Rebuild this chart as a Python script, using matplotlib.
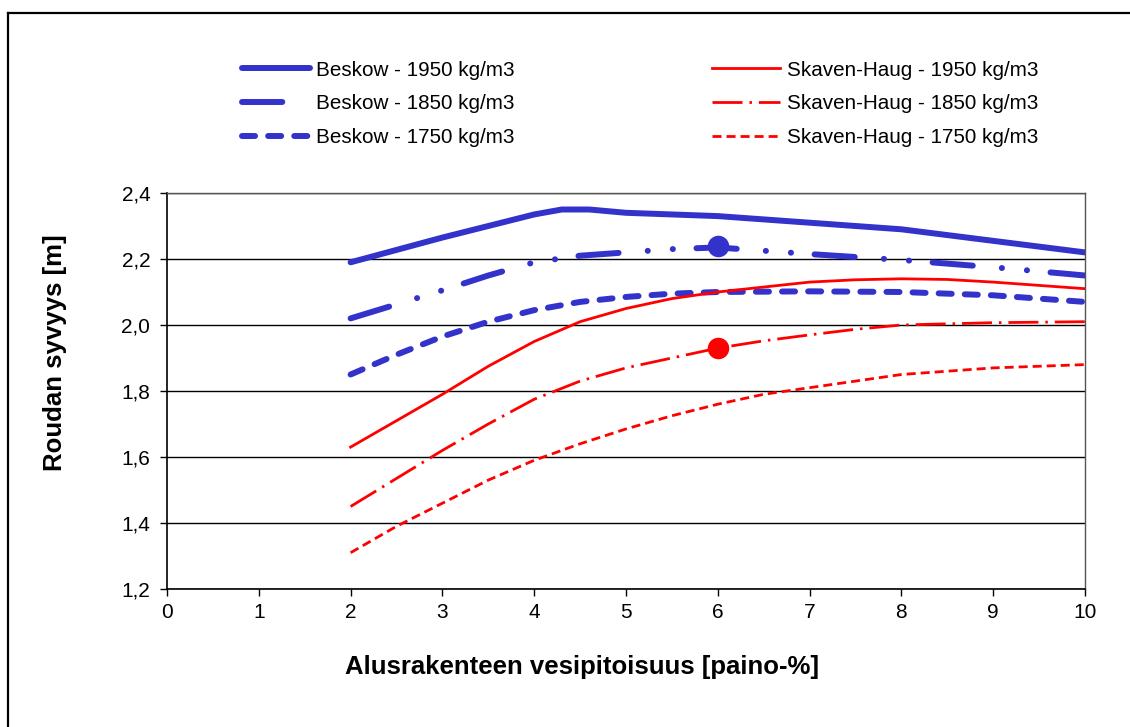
import matplotlib.pyplot as plt
from matplotlib.lines import Line2D
from matplotlib.ticker import FuncFormatter

plt.rcParams["font.family"] = ["Liberation Sans", "DejaVu Sans"]
plt.rcParams["lines.scale_dashes"] = False

# =========================
# DATA
# =========================
x_b1950 = [2, 3, 3.5, 4, 4.3, 4.6, 5, 6, 7, 8, 9, 10]
beskow_1950 = [2.19, 2.265, 2.30, 2.335, 2.35, 2.35, 2.34, 2.33, 2.31, 2.29, 2.255, 2.22]

x_b1850 = [2, 3, 3.5, 4, 4.5, 5, 5.5, 6, 6.5, 7, 8, 9, 10]
beskow_1850 = [2.02, 2.105, 2.15, 2.19, 2.21, 2.22, 2.23, 2.235, 2.225, 2.215, 2.197, 2.175, 2.15]

x_b1750 = [2, 2.5, 3, 3.5, 4, 4.5, 5, 5.5, 6, 7, 8, 9, 10]
beskow_1750 = [1.85, 1.91, 1.965, 2.01, 2.045, 2.07, 2.085, 2.095, 2.10, 2.102, 2.10, 2.09, 2.07]

x_s1950 = [2, 2.5, 3, 3.5, 4, 4.5, 5, 5.5, 6, 6.5, 7, 7.5, 8, 8.5, 9, 9.5, 10]
skaven_1950 = [1.63, 1.71, 1.79, 1.875, 1.95, 2.01, 2.05, 2.08, 2.10, 2.115, 2.13,
               2.137, 2.14, 2.138, 2.13, 2.12, 2.11]

x_s1850 = [2, 2.5, 3, 3.5, 4, 4.5, 5, 5.5, 6, 6.5, 7, 7.5, 8, 9, 10]
skaven_1850 = [1.45, 1.535, 1.62, 1.70, 1.775, 1.83, 1.87, 1.90, 1.93, 1.952, 1.97,
               1.987, 2.0, 2.007, 2.01]

x_s1750 = [2, 2.5, 3, 3.5, 4, 4.5, 5, 5.5, 6, 6.5, 7, 7.5, 8, 8.5, 9, 10]
skaven_1750 = [1.31, 1.39, 1.46, 1.53, 1.59, 1.64, 1.685, 1.725, 1.76, 1.79, 1.81,
               1.83, 1.85, 1.86, 1.87, 1.88]

marker_x = [6, 6]
marker_y = [2.24, 1.93]

blue = "#3333CC"
red = "#FF0000"

# =========================
# FIGURE
# =========================
fig = plt.figure(figsize=(11.3, 7.27), dpi=100)
ax = fig.add_axes([167 / 1130, 1 - 589 / 727, (1085 - 167) / 1130, (589 - 193) / 727])

ax.plot(x_b1950, beskow_1950, color=blue, lw=4.3, solid_capstyle="round",
        solid_joinstyle="round", label="Beskow - 1950 kg/m3")
ax.plot(x_b1850, beskow_1850, color=blue, lw=4.3, dash_capstyle="round",
        dashes=(29, 21, 0.1, 18, 0.1, 17), label="Beskow - 1850 kg/m3")
ax.plot(x_b1750, beskow_1750, color=blue, lw=4.3, dash_capstyle="round",
        dashes=(9.4, 9.4), label="Beskow - 1750 kg/m3")

ax.plot(x_s1950, skaven_1950, color=red, lw=2.0, label="Skaven-Haug - 1950 kg/m3")
ax.plot(x_s1850, skaven_1850, color=red, lw=2.0, dash_capstyle="butt",
        dashes=(21.6, 5, 1.8, 5), label="Skaven-Haug - 1850 kg/m3")
ax.plot(x_s1750, skaven_1750, color=red, lw=2.0, dash_capstyle="butt",
        dashes=(6.5, 3.6), label="Skaven-Haug - 1750 kg/m3")

ax.scatter(marker_x[:1], marker_y[:1], s=210, color=blue, zorder=5)
ax.scatter(marker_x[1:], marker_y[1:], s=210, color=red, zorder=5)

ax.set_xlim(0, 10)
ax.set_ylim(1.2, 2.4)
ax.set_xticks(range(0, 11))
ax.set_yticks([1.2, 1.4, 1.6, 1.8, 2.0, 2.2, 2.4])
ax.yaxis.set_major_formatter(FuncFormatter(lambda v, p: f"{v:.1f}".replace(".", ",")))
ax.yaxis.grid(True, color="black", lw=1.0)
ax.set_axisbelow(True)

ax.tick_params(axis="both", direction="out", length=5, width=1, labelsize=15)
ax.tick_params(axis="y", pad=7)
ax.tick_params(axis="x", pad=5)
for side in ["left", "bottom"]:
    ax.spines[side].set_linewidth(1.2)
    ax.spines[side].set_color("black")
for side in ["top", "right"]:
    ax.spines[side].set_linewidth(1.0)
    ax.spines[side].set_color("#555555")

# akselien otsikot (ei keskitetty kuvaajaan, kuten alkuperäisessä)
fig.text(55 / 1130, 1 - 353 / 727, "Roudan syvyys [m]", fontsize=18.5,
         fontweight="bold", rotation=90, ha="center", va="center")
fig.text(582 / 1130, 1 - 667 / 727, "Alusrakenteen vesipitoisuus [paino-%]",
         fontsize=18.5, fontweight="bold", ha="center", va="center")

fig.legend(loc="upper left", bbox_to_anchor=(223 / 1130, 1 - 42 / 727), ncol=2,
           frameon=False, fontsize=14.85, handlelength=3.3, handletextpad=0.3,
           columnspacing=9.6, labelspacing=0.72)

# ulkoreunus (vasen ja ylä)
fig.add_artist(Line2D([8 / 1130, 8 / 1130], [0, 1 - 13 / 727], color="black",
                      lw=1.6, transform=fig.transFigure))
fig.add_artist(Line2D([8 / 1130, 1], [1 - 13 / 727, 1 - 13 / 727], color="black",
                      lw=1.6, transform=fig.transFigure))

fig.savefig("out.png", dpi=100)
